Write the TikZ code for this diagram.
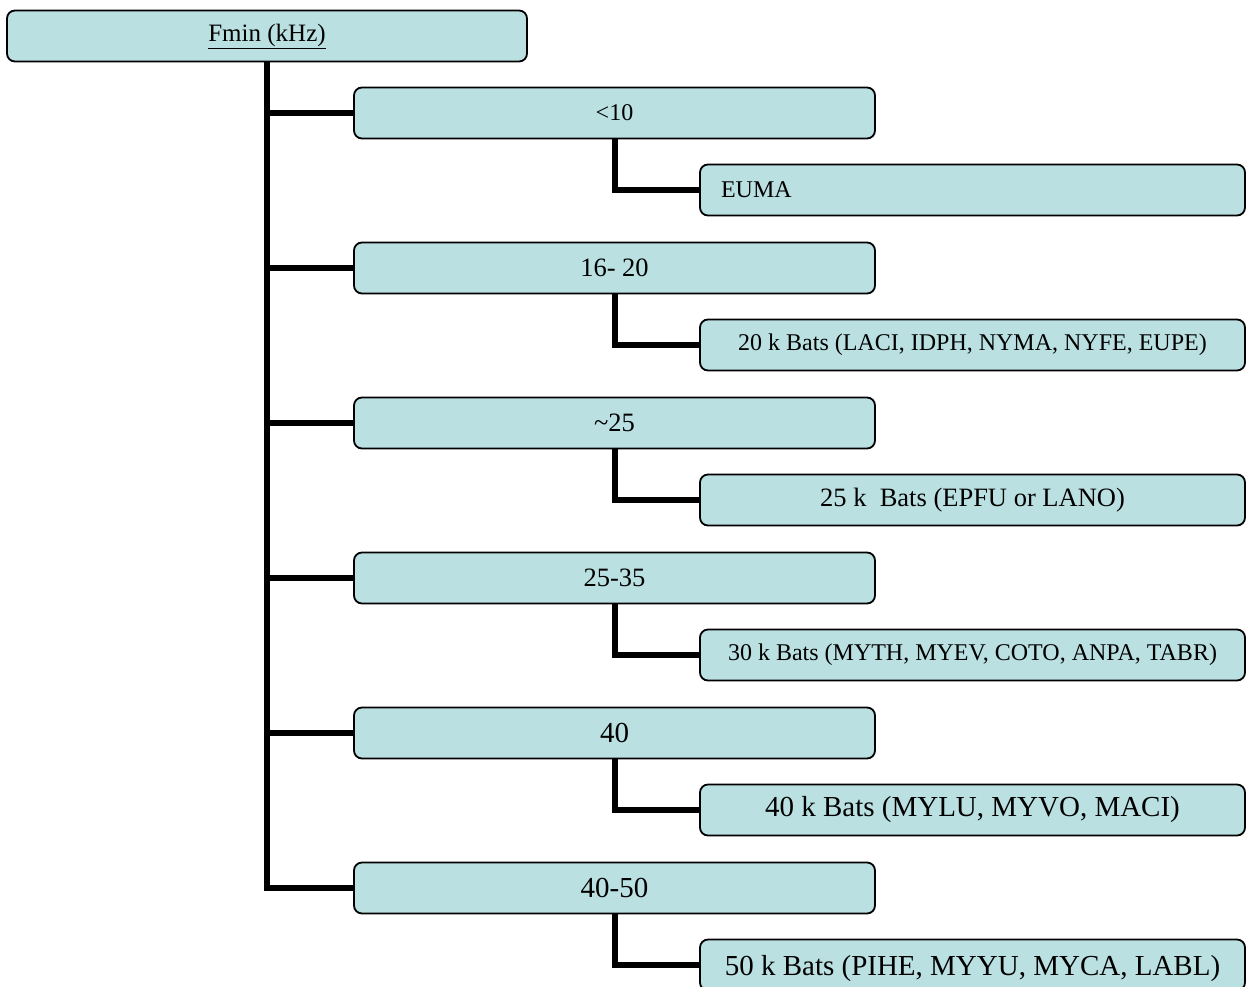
\documentclass[tikz,border=0pt]{standalone}
\usepackage{fontspec}
\setmainfont{Liberation Serif}
\definecolor{boxfill}{RGB}{186,224,226}
\tikzset{
  catbox/.style={draw, line width=1.8pt, fill=boxfill, rounded corners=8pt,
    inner sep=0pt, minimum height=51pt},
  topbox/.style={catbox, minimum width=520pt},
  rangebox/.style={catbox, minimum width=521pt},
  batbox/.style={catbox, minimum width=545pt},
  txtsmall/.style={font=\fontsize{24}{28}\selectfont},
  txtmid/.style={font=\fontsize{26.5}{30}\selectfont},
  txtbig/.style={font=\fontsize{29}{33}\selectfont},
  link/.style={line width=6pt},
}
\begin{document}
\begin{tikzpicture}[x=1pt, y=-1pt]
  \clip (0,0) rectangle (1249,986);

  % Wurzel
  \node[topbox, font=\fontsize{25}{29}\selectfont] (root) at (267,36) {\underline{Fmin (kHz)}};

  % Frequenzbereiche
  \node[rangebox, txtsmall] (g1) at (614.5,113) {<10};
  \node[rangebox, txtmid]   (g2) at (614.5,268) {16- 20};
  \node[rangebox, txtmid]   (g3) at (614.5,423) {\textasciitilde 25};
  \node[rangebox, txtmid]   (g4) at (614.5,578) {25-35};
  \node[rangebox, txtbig]   (g5) at (614.5,733) {40};
  \node[rangebox, txtbig]   (g6) at (614.5,888) {40-50};

  % Fledermausgruppen
  \node[batbox, txtsmall, inner xsep=21pt, text width=503pt, align=left]
    (s1) at (972.5,190) {EUMA};
  \node[batbox, txtsmall] (s2) at (972.5,345) {20 k Bats (LACI, IDPH, NYMA, NYFE, EUPE)};
  \node[batbox, txtmid]   (s3) at (972.5,500) {25 k\ \ Bats (EPFU or LANO)};
  \node[batbox, txtsmall] (s4) at (972.5,655) {30 k Bats (MYTH, MYEV, COTO, ANPA, TABR)};
  \node[batbox, txtbig]   (s5) at (972.5,810) {40 k Bats (MYLU, MYVO, MACI)};
  \node[batbox, txtbig, text depth=0pt] (s6) at (972.5,965) {50 k Bats (PIHE, MYYU, MYCA, LABL)};

  % Verbindungen
  \foreach \i in {1,...,6} {
      \draw[link] (root.south) |- (g\i.west);
      \draw[link] (g\i.south) |- (s\i.west);
    }
\end{tikzpicture}
\end{document}
